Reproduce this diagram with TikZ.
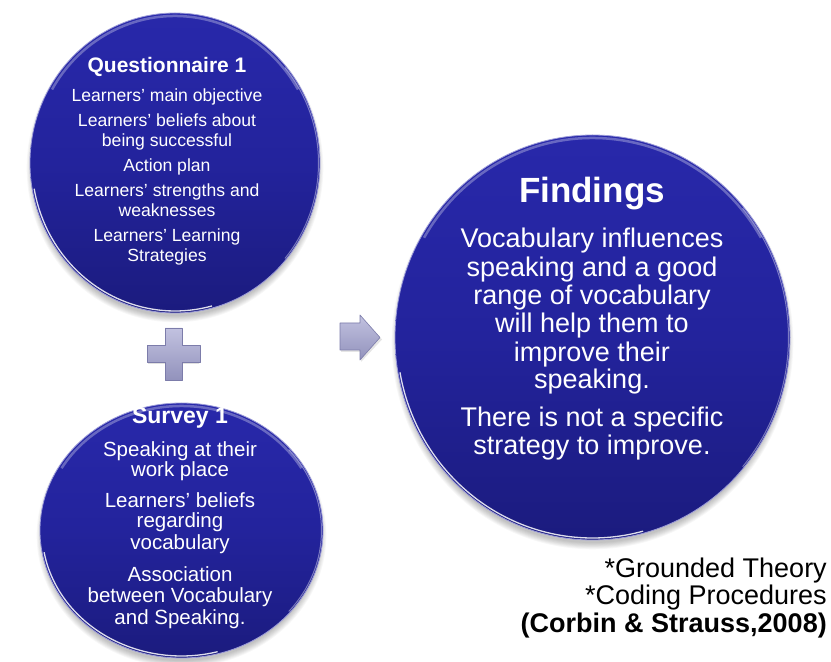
\documentclass[tikz,border=0pt]{standalone}
\usepackage{fontspec}
\setmainfont{Liberation Sans}
\usetikzlibrary{shapes.geometric}
\definecolor{ctop}{HTML}{2828AA}
\definecolor{cmid}{HTML}{23239C}
\definecolor{cbot}{HTML}{1B1B7E}
\definecolor{crim}{HTML}{9C9CD8}
\definecolor{gtop}{HTML}{C2C2E0}
\definecolor{gbot}{HTML}{9292BC}
\definecolor{gedge}{HTML}{7C7CAA}
\tikzset{
  txt/.style={text=white, inner sep=0pt, anchor=base},
  qtitle/.style={txt, font=\bfseries\fontsize{21}{24}\selectfont},
  qbody/.style={txt, font=\fontsize{17.6}{20}\selectfont},
  stitle/.style={txt, font=\bfseries\fontsize{23}{26}\selectfont},
  sbody/.style={txt, font=\fontsize{20.5}{23}\selectfont},
  ftitle/.style={txt, font=\bfseries\fontsize{35}{40}\selectfont},
  fbody/.style={txt, font=\fontsize{27}{30}\selectfont},
  note/.style={text=black, inner sep=0pt, anchor=base east, font=\fontsize{27}{30}\selectfont},
  bubblefill/.style={top color=ctop, bottom color=cbot, middle color=cmid},
  greyshape/.style={top color=gtop, bottom color=gbot, draw=gedge, line width=0.6pt, line join=round},
}
\newcommand{\mybubble}[5]{%
  \foreach \k in {0,...,7}{
    \fill[black, opacity=0.03] (#2,#3-5) ellipse[x radius={#4+\k*0.9-3}, y radius={#5+\k*0.9-2}];
  }
  \node[ellipse, minimum width={2*#4*1pt}, minimum height={2*#5*1pt}, inner sep=0pt, bubblefill, draw=crim, line width=0.8pt] (#1) at (#2,#3) {};
  \draw[white, opacity=0.3, line width=2.5pt] (#2,#3) ++(30:{#4-3} and {#5-3}) arc[start angle=30, end angle=150, x radius={#4-3}, y radius={#5-3}];
  \draw[white, opacity=0.85, line width=1.3pt] (#2,#3) ++(190:{#4-2} and {#5-2}) arc[start angle=190, end angle=285, x radius={#4-2}, y radius={#5-2}];
  \draw[white, opacity=0.4, line width=1pt] (#2,#3) ++(-40:{#4-1.5} and {#5-1.5}) arc[start angle=-40, end angle=40, x radius={#4-1.5}, y radius={#5-1.5}];
}
\begin{document}
\begin{tikzpicture}[x=1pt, y=1pt]
\useasboundingbox (0,0) rectangle (831,662);
\fill[white] (0,0) rectangle (831,662);

\mybubble{quest}{175}{499}{145}{150}
\mybubble{survey}{181.5}{131.5}{141.5}{127.5}
\mybubble{find}{592.5}{324.5}{197.5}{202.5}

% plus sign
\fill[black, opacity=0.12] (165,281) -- (182,281) -- (182,298) -- (199,298) -- (199,315) -- (182,315) -- (182,332) -- (165,332) -- (165,315) -- (148,315) -- (148,298) -- (165,298) -- cycle;
\path[greyshape] (165,282) -- (182,282) -- (182,299.5) -- (200,299.5) -- (200,316.5) -- (182,316.5) -- (182,334) -- (165,334) -- (165,316.5) -- (147,316.5) -- (147,299.5) -- (165,299.5) -- cycle;
\coordinate (pluscenter) at (173.5,308);

% arrow
\fill[black, opacity=0.1] (341,310) -- (361,310) -- (361,300) -- (382,322.5) -- (361,345) -- (361,337) -- (341,337) -- cycle;
\path[greyshape] (340,312) -- (360,312) -- (360,302) -- (380,324.5) -- (360,347) -- (360,339) -- (340,339) -- cycle;

% Questionnaire texts
\node[qtitle] (q0) at (167,589) {Questionnaire 1};
\node[qbody] (q1) at (167,560) {Learners’ main objective};
\node[qbody] (q2) at (167,535) {Learners’ beliefs about};
\node[qbody] (q3) at (167,515) {being successful};
\node[qbody] (q4) at (167,490) {Action plan};
\node[qbody] (q5) at (167,465) {Learners’ strengths and};
\node[qbody] (q6) at (167,445) {weaknesses};
\node[qbody] (q7) at (167,420) {Learners’ Learning};
\node[qbody] (q8) at (167,400) {Strategies};

% Survey texts
\node[stitle] (s0) at (180,238) {Survey 1};
\node[sbody] (s1) at (180,205) {Speaking at their};
\node[sbody] (s2) at (180,185) {work place};
\node[sbody] (s3) at (180,154) {Learners’ beliefs};
\node[sbody] (s4) at (180,134) {regarding};
\node[sbody] (s5) at (180,112) {vocabulary};
\node[sbody] (s6) at (180,80) {Association};
\node[sbody] (s7) at (180,59) {between Vocabulary};
\node[sbody] (s8) at (180,37) {and Speaking.};

% Findings texts
\node[ftitle] (f0) at (592,459) {Findings};
\node[fbody] (f1) at (592,414) {Vocabulary influences};
\node[fbody] (f2) at (592,385) {speaking and a good};
\node[fbody] (f3) at (592,357) {range of vocabulary};
\node[fbody] (f4) at (592,329) {will help them to};
\node[fbody] (f5) at (592,300) {improve their};
\node[fbody] (f6) at (592,273) {speaking.};
\node[fbody] (f7) at (592,235) {There is not a specific};
\node[fbody] (f8) at (592,207) {strategy to improve.};

% notes
\node[note] (n1) at (827,84) {*Grounded Theory};
\node[note] (n2) at (827,57) {*Coding Procedures};
\node[note, font=\bfseries\fontsize{27}{30}\selectfont] (n3) at (827,29) {(Corbin \& Strauss,2008)};
\end{tikzpicture}
\end{document}
